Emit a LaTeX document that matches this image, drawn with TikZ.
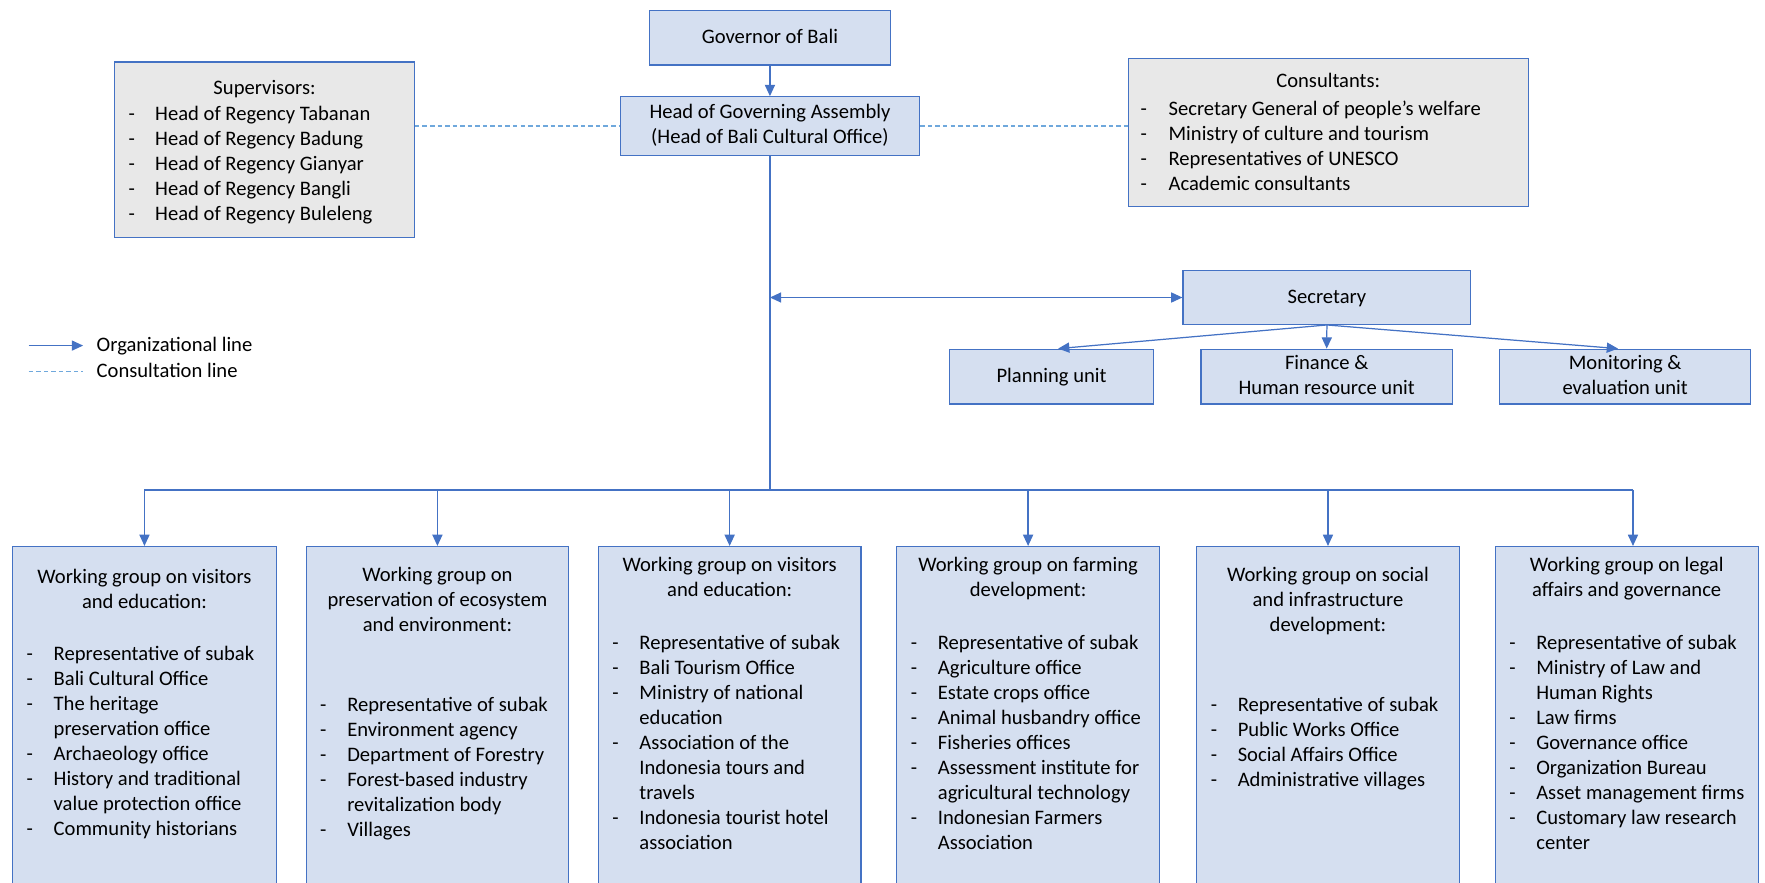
\documentclass[tikz,border=0pt]{standalone}
\usepackage{fontspec}
\setmainfont{Carlito}
\usetikzlibrary{arrows.meta,calc}
\definecolor{bord}{HTML}{4472C4}
\definecolor{bfill}{HTML}{D5DFF0}
\definecolor{gfill}{HTML}{E8E8E8}
\definecolor{dashc}{HTML}{6FA8DC}
\begin{document}
\begin{tikzpicture}[x=1pt,y=-1pt,
  bbox/.style={draw=bord, line width=1.2pt, fill=bfill, inner sep=0pt},
  gbox/.style={draw=bord, line width=1.2pt, fill=gfill, inner sep=0pt},
  txt/.style={inner sep=0pt, font=\fontsize{18.3}{22.2}\selectfont},
  org/.style={draw=bord, line width=1.1pt, -{Triangle[width=9pt,length=10pt]}},
  orgline/.style={draw=bord, line width=1.1pt},
  cons/.style={draw=dashc, line width=1.1pt, dash pattern=on 4pt off 2.7pt}]
\useasboundingbox (0,0) rectangle (1568,784);
\clip (0,0) rectangle (1568,784);

% top boxes
\node[bbox, minimum width=214pt, minimum height=48pt] (gov) at (684,33.6) {};
\node[txt, anchor=base] (govt) at (684,38.5) {Governor of Bali};
\node[bbox, minimum width=266pt, minimum height=52pt] (hga) at (684,112) {};
\node[txt, anchor=base] (hgat) at (684,105.4) {\begin{tabular}[t]{@{}c@{}}Head of Governing Assembly\\(Head of Bali Cultural Office)\end{tabular}};

\node[gbox, minimum width=266pt, minimum height=156pt] (sup) at (235,133.2) {};
\node[txt, anchor=base] (supt) at (235,83.8) {Supervisors:};
\node[txt, anchor=base west] (supl) at (114,106.8) {\begin{tabular}[t]{@{}p{23.7pt}@{}l@{}}
-&Head of Regency Tabanan\\
-&Head of Regency Badung\\
-&Head of Regency Gianyar\\
-&Head of Regency Bangli\\
-&Head of Regency Buleleng\end{tabular}};

\node[gbox, minimum width=355.5pt, minimum height=131.8pt] (con) at (1180,117.7) {};
\node[txt, anchor=base] (cont) at (1180,77.8) {Consultants:};
\node[txt, anchor=base west] (conl) at (1013,102.4) {\begin{tabular}[t]{@{}p{25pt}@{}l@{}}
-&Secretary General of people’s welfare\\
-&Ministry of culture and tourism\\
-&Representatives of UNESCO\\
-&Academic consultants\end{tabular}};

% secretary
\node[bbox, minimum width=255.6pt, minimum height=47.6pt] (sec) at (1178.8,264.3) {};
\node[txt, anchor=base] (sect) at (1178.8,269.5) {Secretary};
\node[bbox, minimum width=181.5pt, minimum height=48.6pt] (plan) at (934.2,334.6) {};
\node[txt, anchor=base] (plant) at (934.2,339.9) {Planning unit};
\node[bbox, minimum width=223.1pt, minimum height=48.6pt] (fin) at (1178.6,334.6) {};
\node[txt, anchor=base] (fint) at (1178.6,328.1) {\begin{tabular}[t]{@{}c@{}}Finance \&\\Human resource unit\end{tabular}};
\node[bbox, minimum width=223.1pt, minimum height=48.6pt] (mon) at (1443.8,334.6) {};
\node[txt, anchor=base] (mont) at (1443.8,328.1) {\begin{tabular}[t]{@{}c@{}}Monitoring \&\\evaluation unit\end{tabular}};

% legend
\coordinate (lga) at (25.5,307);
\coordinate (lgb) at (73.8,307);
\coordinate (lgc) at (25.5,330);
\coordinate (lgd) at (73.8,330);
\draw[org] (lga) -- (lgb);
\draw[cons] (lgc) -- (lgd);
\node[txt, anchor=base west] (lgt1) at (85.7,312.3) {Organizational line};
\node[txt, anchor=base west] (lgt2) at (85.7,335.3) {Consultation line};

% bottom boxes
\node[bbox, minimum width=234.3pt, minimum height=330pt, anchor=north] (w1) at (128.35,485) {};
\node[bbox, minimum width=233.2pt, minimum height=330pt, anchor=north] (w2) at (388.6,485) {};
\node[bbox, minimum width=233.2pt, minimum height=330pt, anchor=north] (w3) at (648.2,485) {};
\node[bbox, minimum width=233.3pt, minimum height=330pt, anchor=north] (w4) at (913.35,485) {};
\node[bbox, minimum width=233.3pt, minimum height=330pt, anchor=north] (w5) at (1179.75,485) {};
\node[bbox, minimum width=233.7pt, minimum height=330pt, anchor=north] (w6) at (1445.15,485) {};

\node[txt, anchor=base] (w1t) at (128.35,518.2) {\begin{tabular}[t]{@{}c@{}}Working group on visitors\\and education:\end{tabular}};
\node[txt, anchor=base west] (w1l) at (23.5,587.2) {\begin{tabular}[t]{@{}p{24pt}@{}l@{}}
-&Representative of subak\\
-&Bali Cultural Office\\
-&The heritage\\
&preservation office\\
-&Archaeology office\\
-&History and traditional\\
&value protection office\\
-&Community historians\end{tabular}};

\node[txt, anchor=base] (w2t) at (388.6,517) {\begin{tabular}[t]{@{}c@{}}Working group on\\preservation of ecosystem\\and environment:\end{tabular}};
\node[txt, anchor=base west] (w2l) at (284.3,632.5) {\begin{tabular}[t]{@{}p{24pt}@{}l@{}}
-&Representative of subak\\
-&Environment agency\\
-&Department of Forestry\\
-&Forest-based industry\\
&revitalization body\\
-&Villages\end{tabular}};

\node[txt, anchor=base] (w3t) at (648.2,508.1) {\begin{tabular}[t]{@{}c@{}}Working group on visitors\\and education:\end{tabular}};
\node[txt, anchor=base west] (w3l) at (543.9,576.8) {\begin{tabular}[t]{@{}p{24pt}@{}l@{}}
-&Representative of subak\\
-&Bali Tourism Office\\
-&Ministry of national\\
&education\\
-&Association of the\\
&Indonesia tours and\\
&travels\\
-&Indonesia tourist hotel\\
&association\end{tabular}};

\node[txt, anchor=base] (w4t) at (913.35,508.1) {\begin{tabular}[t]{@{}c@{}}Working group on farming\\development:\end{tabular}};
\node[txt, anchor=base west] (w4l) at (809,576.8) {\begin{tabular}[t]{@{}p{24pt}@{}l@{}}
-&Representative of subak\\
-&Agriculture office\\
-&Estate crops office\\
-&Animal husbandry office\\
-&Fisheries offices\\
-&Assessment institute for\\
&agricultural technology\\
-&Indonesian Farmers\\
&Association\end{tabular}};

\node[txt, anchor=base] (w5t) at (1179.75,517) {\begin{tabular}[t]{@{}c@{}}Working group on social\\and infrastructure\\development:\end{tabular}};
\node[txt, anchor=base west] (w5l) at (1075.4,632.5) {\begin{tabular}[t]{@{}p{24pt}@{}l@{}}
-&Representative of subak\\
-&Public Works Office\\
-&Social Affairs Office\\
-&Administrative villages\end{tabular}};

\node[txt, anchor=base] (w6t) at (1445.15,508.1) {\begin{tabular}[t]{@{}c@{}}Working group on legal\\affairs and governance\end{tabular}};
\node[txt, anchor=base west] (w6l) at (1340.6,576.8) {\begin{tabular}[t]{@{}p{24pt}@{}l@{}}
-&Representative of subak\\
-&Ministry of Law and\\
&Human Rights\\
-&Law firms\\
-&Governance office\\
-&Organization Bureau\\
-&Asset management firms\\
-&Customary law research\\
&center\end{tabular}};

% connectors
\draw[org] (gov.south) -- (hga.north);
\draw[cons] (sup.east |- hga.west) -- (hga.west);
\draw[cons] (hga.east) -- (hga.east -| con.west);
\coordinate (bus) at (684,435.3);
\coordinate (w6in) at (1450.7,485);
\draw[orgline] (hga.south) -- (bus);
\draw[orgline] (bus -| w1.north) -- (bus -| w6in);
\draw[draw=bord, line width=1.1pt, {Triangle[width=9pt,length=10pt]}-{Triangle[width=9pt,length=10pt]}] (sec.west -| hga.south) -- (sec.west);
\foreach \w in {w1,w2,w3,w4,w5} \draw[org] (bus -| \w.north) -- (\w.north);
\draw[org] (bus -| w6in) -- (w6in);
\coordinate (planin) at ($(plan.north)+(5.8,0)$);
\coordinate (monin) at ($(mon.north)+(-6.4,0)$);
\draw[org] (sec.south) -- (planin);
\draw[org] (sec.south) -- (fin.north);
\draw[org] (sec.south) -- (monin);
\end{tikzpicture}
\end{document}
